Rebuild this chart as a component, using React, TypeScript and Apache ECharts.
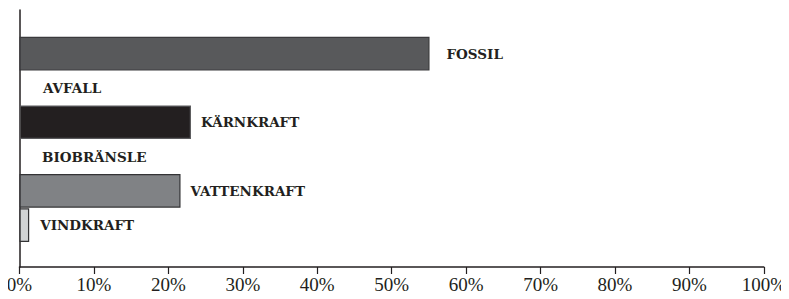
import React, { useEffect, useRef } from "react";
import * as echarts from "echarts";

const categories = ["FOSSIL", "AVFALL", "KÄRNKRAFT", "BIOBRÄNSLE", "VATTENKRAFT", "VINDKRAFT"];
const values = [55, 0, 23, 0, 21.6, 1.3];
const xTicks = [0, 10, 20, 30, 40, 50, 60, 70, 80, 90, 100];

const fills = ["#58595b", "#ffffff", "#231f20", "#ffffff", "#808285", "#d1d3d4"];
const borders = ["#3a3a3c", "#ffffff", "#5a5a5c", "#ffffff", "#333335", "#333335"];
const labelDistances = [17, 23.5, 10, 22.5, 10, 11];

export default function App() {
  const ref = useRef<HTMLDivElement>(null);
  useEffect(() => {
    if (!ref.current) return;
    const chart = echarts.init(ref.current, null, { renderer: "svg" });
    const axisColor = "#231f20";
    chart.setOption({
      animation: false,
      grid: [
        { left: 19.5, right: 24, top: 10, bottom: 32 },
        { left: 19.5, right: 24, top: 36.5, bottom: 56.7 },
      ],
      xAxis: [
        {
          gridIndex: 0,
          type: "value",
          min: xTicks[0],
          max: xTicks[xTicks.length - 1],
          interval: 10,
          axisLine: { show: true, lineStyle: { color: axisColor, width: 1.5 } },
          axisTick: { show: true, length: 7, lineStyle: { color: axisColor, width: 1.2 } },
          splitLine: { show: false },
          axisLabel: {
            formatter: "{value}%",
            fontFamily: "Liberation Serif",
            fontSize: 19,
            color: axisColor,
            margin: 8,
          },
        },
        {
          gridIndex: 1,
          type: "value",
          min: 0,
          max: 100,
          show: false,
        },
      ],
      yAxis: [
        {
          gridIndex: 0,
          type: "value",
          min: 0,
          max: 1,
          axisLine: { show: true, lineStyle: { color: axisColor, width: 1.5 } },
          axisTick: { show: false },
          axisLabel: { show: false },
          splitLine: { show: false },
        },
        {
          gridIndex: 1,
          type: "category",
          data: categories,
          inverse: true,
          show: false,
        },
      ],
      series: [
        {
          type: "bar",
          xAxisIndex: 1,
          yAxisIndex: 1,
          barCategoryGap: "2%",
          data: values.map((v, i) => ({
            value: v,
            itemStyle: {
              color: fills[i],
              borderColor: borders[i],
              borderWidth: v > 0 ? 1.2 : 0,
            },
            label: { distance: labelDistances[i] },
          })),
          label: {
            show: true,
            position: "right",
            formatter: (p: any) => p.name,
            fontFamily: "DejaVu Serif",
            fontWeight: "bold",
            fontSize: 13.5,
            color: axisColor,
          },
        },
      ],
    });
    return () => chart.dispose();
  }, []);
  return <div ref={ref} style={{ width: 789, height: 299, margin: -8 }} />;
}
